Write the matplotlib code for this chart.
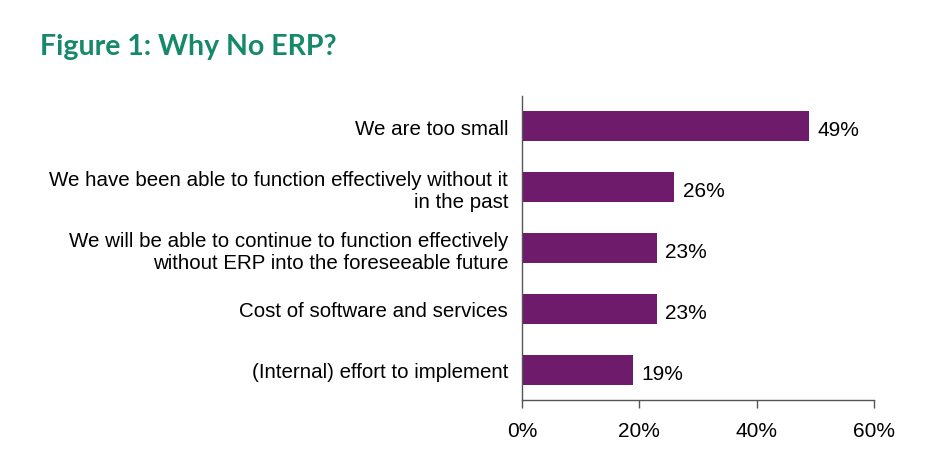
import matplotlib
matplotlib.use("Agg")
import matplotlib.pyplot as plt
from matplotlib.ticker import FuncFormatter

categories = [
    "We are too small",
    "We have been able to function effectively without it\nin the past",
    "We will be able to continue to function effectively\nwithout ERP into the foreseeable future",
    "Cost of software and services",
    "(Internal) effort to implement",
]
values = [49, 26, 23, 23, 19]
xticks = [0, 20, 40, 60]

bar_color = "#6E1B6C"
title_color = "#16896B"

fig = plt.figure(figsize=(9.26, 4.6), dpi=100)
ax = fig.add_axes([0.5637, 0.1272, 0.38, 0.6630])

pos = list(range(len(categories)))
ax.barh(pos, values, height=0.5, color=bar_color)
ax.set_ylim(len(categories) - 0.5, -0.5)
ax.set_xlim(0, 60)
ax.set_xticks(xticks)
ax.xaxis.set_major_formatter(FuncFormatter(lambda v, p: f"{v:.0f}%"))
ax.set_yticks(pos)
ax.set_yticklabels(categories, fontfamily="Liberation Sans", fontsize=14.8,
                   linespacing=1.2)
ax.tick_params(axis="y", length=0, pad=10)
ax.tick_params(axis="x", length=6, width=1, color="#555555", pad=9,
               labelsize=15)
for lab in ax.get_xticklabels():
    lab.set_fontfamily("Liberation Sans")

for s in ["top", "right"]:
    ax.spines[s].set_visible(False)
for s in ["left", "bottom"]:
    ax.spines[s].set_color("#555555")
    ax.spines[s].set_linewidth(1)

for p, v in zip(pos, values):
    ax.text(v + 1.4, p + 0.05, f"{v}%", va="center", ha="left", fontsize=15,
            fontfamily="Liberation Sans")

fig.text(40 / 926, 1 - 47 / 460, "Figure 1: Why No ERP?", fontsize=20.5,
         fontweight="bold", fontfamily="Lato", color=title_color,
         va="center", ha="left")

fig.savefig("out.png", dpi=100)
